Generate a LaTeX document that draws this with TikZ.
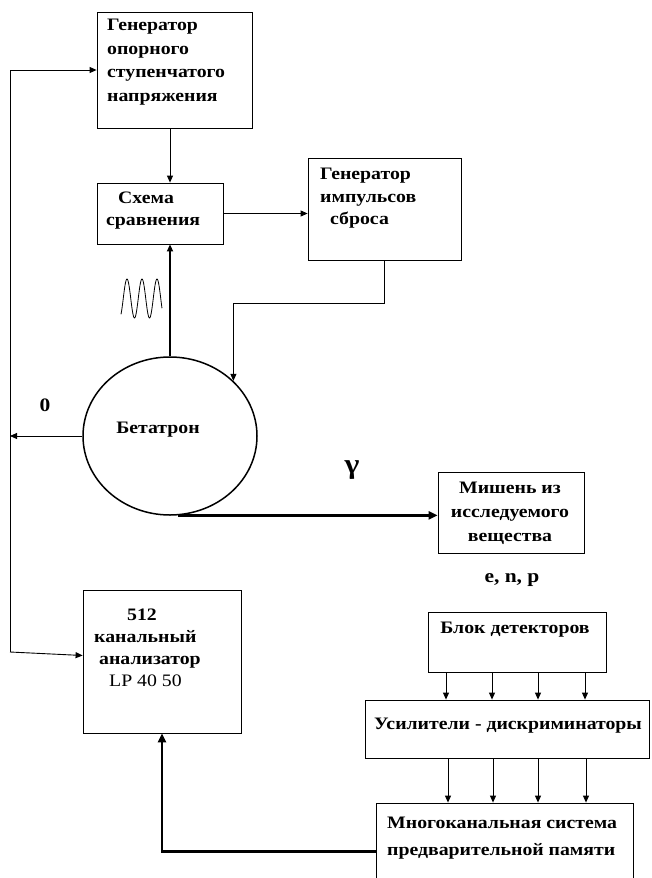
\documentclass[tikz,border=0pt]{standalone}
\usepackage{fontspec}
\setmainfont[FakeStretch=1.13]{Liberation Serif}
\usetikzlibrary{arrows.meta,shapes.geometric,calc}
\begin{document}
\begin{tikzpicture}[x=1pt,y=-1pt,
  box/.style={draw,line width=0.8pt,inner sep=0pt},
  arr/.style={line width=0.9pt,-{Triangle[length=7pt,width=6pt]}},
  tarr/.style={line width=2.4pt,-{Triangle[length=9pt,width=8pt]}},
  txt/.style={inner sep=0pt,align=left,font=\bfseries\fontsize{17.5}{23.5}\selectfont},
  ctxt/.style={inner sep=0pt,align=center,font=\bfseries\fontsize{17.5}{23.5}\selectfont},
  lbl/.style={inner sep=0pt,font=\bfseries\fontsize{19}{20}\selectfont}]
\useasboundingbox (0,0) rectangle (651,878);
% boxes
\node[box,minimum width=155,minimum height=116] (gen) at (174.5,70) {};
\node[box,minimum width=126,minimum height=61] (cmp) at (160,213.5) {};
\node[box,minimum width=153,minimum height=102] (gen2) at (384.5,209) {};
\node[box,ellipse,line width=1.5pt,minimum width=174,minimum height=158] (bet) at (170,436) {};
\node[box,minimum width=146,minimum height=81] (tgt) at (511,512.5) {};
\node[box,minimum width=158,minimum height=143] (ana) at (162,661.5) {};
\node[box,minimum width=178,minimum height=60] (det) at (517,642) {};
\node[box,minimum width=284,minimum height=58] (amp) at (507,729) {};
\node[box,minimum width=257,minimum height=97] (mem) at (504.5,851.5) {};
% texts
\node[txt,anchor=west] (t1) at (107,62) {Генератор\\опорного\\ступенчатого\\напряжения};
\node[txt,anchor=west,font=\bfseries\fontsize{17.5}{22}\selectfont] (t2) at (106,211) {\hspace*{12pt}Схема\\сравнения};
\node[txt,anchor=west,font=\bfseries\fontsize{17.5}{22.5}\selectfont] (t3) at (320,198.5) {Генератор\\импульсов\\\hspace*{10pt}сброса};
\node[ctxt] (t4) at (158,430) {Бетатрон};
\node[ctxt,font=\bfseries\fontsize{17.5}{24}\selectfont] (t5) at (510,513) {Мишень из\\исследуемого\\вещества};
\node[txt,anchor=west,font=\bfseries\fontsize{17.5}{22}\selectfont] (t6) at (94,648) {\hspace*{33pt}512\\канальный\\\hspace*{5pt}анализатор\\\hspace*{15pt}\mdseries LP 40 50};
\node[ctxt] (t7) at (515,630) {Блок детекторов};
\node[ctxt] (t8) at (508,726) {Усилители - дискриминаторы};
\node[txt,anchor=west,font=\bfseries\fontsize{17.5}{27}\selectfont] (t9) at (387,838.5) {Многоканальная система\\предварительной памяти};
\node[lbl] (zero) at (45,405) {0};
\node[lbl,font=\bfseries\fontsize{28}{30}\selectfont] (gam) at (352,470) {γ};
\node[lbl] (enp) at (512,580) {e, n, p};
% coordinates
\coordinate (fbtop) at (10,70);
\coordinate (fbbot) at (10,652);
\coordinate (vx) at (170,0);
% connectors
\draw[arr] (gen.south -| vx) -- (cmp.north -| vx);
\draw[line width=1.6pt,-{Triangle[length=7pt,width=6pt]}] (bet.north) -- (cmp.south -| bet.north);
\draw[arr] (cmp.east) -- (cmp.east -| gen2.west);
\draw[arr] (gen2.south) -- ++(0,43) -| (bet.41.8);
\draw[arr] (bet.west) -- (bet.west -| fbtop);
\draw[arr] (fbbot) -- (fbtop) -- (gen.west);
\draw[arr] (fbbot) -- ($(ana.west)+(0,-6)$);
\draw[tarr] (bet.-84) -- (bet.-84 -| tgt.west);
\foreach \x in {446,492,538,585} \draw[arr] (det.south -| \x,0) -- (amp.north -| \x,0);
\foreach \x in {448,493,538,586} \draw[arr] (amp.south -| \x,0) -- (mem.north -| \x,0);
\draw[tarr] (mem.west) -| (ana.south);
% sine wave
\draw[line width=0.8pt,domain=121:162,samples=120,smooth] plot (\x,{298.5-19.5*sin(360*(\x-123.25)/15)});
\end{tikzpicture}
\end{document}
